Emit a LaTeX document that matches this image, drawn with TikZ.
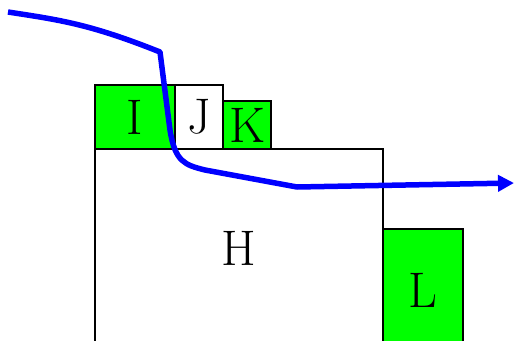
\documentclass[tikz,border=0pt]{standalone}
\usetikzlibrary{arrows.meta}
\definecolor{boxgreen}{RGB}{0,255,0}
\begin{document}
\begin{tikzpicture}[x=1pt,y=-1pt,
    blk/.style={draw=black,line width=2pt,inner sep=0pt,outer sep=0pt,
      font=\fontsize{50}{60}\selectfont},
    full/.style={blk,fill=boxgreen},
    empty/.style={blk,fill=white},
    route/.style={draw=blue,line width=5.5pt,-{Triangle[length=16pt,width=16pt]}}]
  \clip (0,0) rectangle (514,340);
  \useasboundingbox (0,0) rectangle (514,340);
  \node[empty,minimum width=288pt,minimum height=198pt] (H) at (239,248) {H};
  \node[full,minimum width=80pt,minimum height=122pt] (L) at (423,290) {L};
  \node[full,minimum width=80pt,minimum height=64pt] (I) at (135,117) {I};
  \node[empty,minimum width=48pt,minimum height=64pt] (J) at (199,117) {J};
  \node[full,minimum width=48pt,minimum height=48pt] (K) at (247,125) {K};
  % route across the blocks
  \coordinate (start) at (8,12);
  \coordinate (bend) at (160,52);
  \coordinate (low) at (297,187);
  \coordinate (end) at (514,183);
  \draw[route,line join=round]
    (start) .. controls (60,20) and (90,24) .. (bend)
    -- (170,130) .. controls (175,162) and (185,165) .. (205,170)
    -- (low) -- (end);
\end{tikzpicture}
\end{document}
